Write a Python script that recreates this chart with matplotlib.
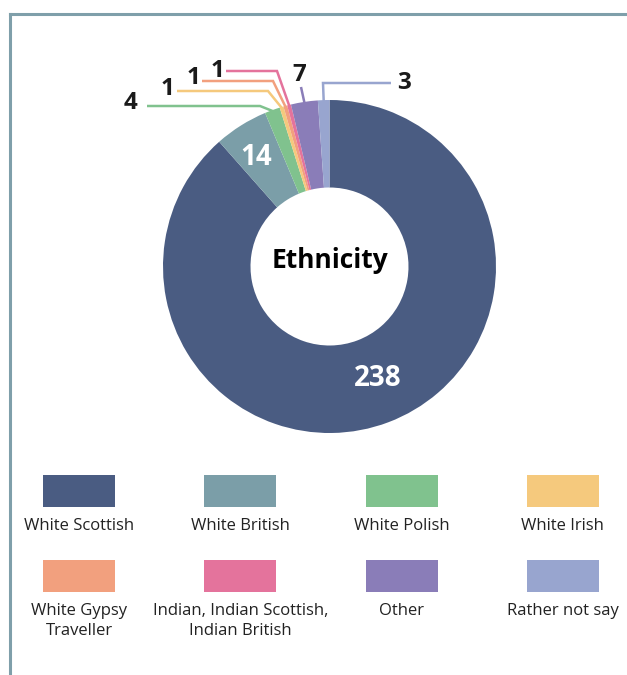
import matplotlib
matplotlib.use("Agg")
import matplotlib.pyplot as plt
import numpy as np
from matplotlib.patches import Rectangle

categories = ["White Scottish", "White British", "White Polish", "White Irish",
              "White Gypsy\nTraveller", "Indian, Indian Scottish,\nIndian British",
              "Other", "Rather not say"]
values = [238, 14, 4, 1, 1, 1, 7, 3]
colors = ["#4a5c82", "#7b9ea8", "#80c28e", "#f5c97d",
          "#f2a07e", "#e4739c", "#8a7db8", "#98a5cf"]
center_title = "Ethnicity"

FONT = ["Open Sans", "DejaVu Sans"]
W, H = 627, 675
fig = plt.figure(figsize=(W / 100, H / 100), dpi=100)
ax = fig.add_axes([0, 0, 1, 1])

def py(y):  # pixel-from-top -> data y
    return H - y

cx, cy, R, hole = 329.5, py(266.5), 166.5, 79
wedges, _ = ax.pie(values, colors=colors, startangle=90, counterclock=False,
                   radius=R, center=(cx, cy), frame=True,
                   wedgeprops=dict(width=R - hole, linewidth=0))
ax.set_xlim(0, W)
ax.set_ylim(0, H)
ax.set_aspect("auto")
ax.axis("off")

def point(ang, r):
    a = np.deg2rad(ang)
    return cx + r * np.cos(a), cy + r * np.sin(a)

# inner labels (angle offset, radius factor)
for i, dang, rf in [(0, 2.5, 0.73), (1, 2.0, 0.79)]:
    w = wedges[i]
    mid = (w.theta1 + w.theta2) / 2 + dang
    x, y = point(mid, R * rf)
    ax.text(x, y, str(values[i]), color="white", fontsize=20, fontweight="bold",
            ha="center", va="center", family=FONT)

# outer labels: text position, line start, elbow (pixel coords from top)
outer = {
    2: dict(text=(131, 103), start=(147, 106), elbow=(260, 106)),
    3: dict(text=(168, 89), start=(177, 91), elbow=(268, 91)),
    4: dict(text=(194, 78), start=(202, 81), elbow=(273, 81)),
    5: dict(text=(218, 71), start=(226, 71), elbow=(277, 71)),
    6: dict(text=(299, 75), start=(301, 87), elbow=None),
    7: dict(text=(404, 83), start=(391, 83), elbow=(323, 83)),
}
for i, cfg in outer.items():
    w = wedges[i]
    mid = (w.theta1 + w.theta2) / 2
    ex, ey = point(mid, R - 1)
    pts = [(cfg["start"][0], py(cfg["start"][1]))]
    if cfg["elbow"] is not None:
        pts.append((cfg["elbow"][0], py(cfg["elbow"][1])))
    pts.append((ex, ey))
    xs, ys = zip(*pts)
    ax.plot(xs, ys, color=colors[i], lw=1.8, solid_capstyle="butt",
            solid_joinstyle="miter")
    ax.text(cfg["text"][0], py(cfg["text"][1]), str(values[i]), color="#1a1a1a",
            fontsize=17.5, fontweight="bold", ha="center", va="center", family=FONT)

ax.text(cx, py(261), center_title, color="black", fontsize=19, fontweight="bold",
        ha="center", va="center", family=FONT)

# legend grid
col_x0, col_dx = 79, 161.3
row_tops = [475, 560]
pw, ph = 72, 32
for k, (lab, c) in enumerate(zip(categories, colors)):
    r, col = divmod(k, 4)
    xc = col_x0 + col * col_dx
    top = row_tops[r]
    ax.add_patch(Rectangle((xc - pw / 2, py(top + ph)), pw, ph, facecolor=c,
                           edgecolor="none"))
    ax.text(xc, py(top + ph + 11), lab, ha="center", va="top", fontsize=12,
            color="#222222", family=FONT, linespacing=1.3)

# frame lines (left and top)
fc = "#7f9faa"
ax.plot([10, 10], [0, py(14)], color=fc, lw=2.2, solid_capstyle="projecting")
ax.plot([10, W], [py(14), py(14)], color=fc, lw=2.2, solid_capstyle="projecting")

fig.savefig("out.png", dpi=100, facecolor="white")
